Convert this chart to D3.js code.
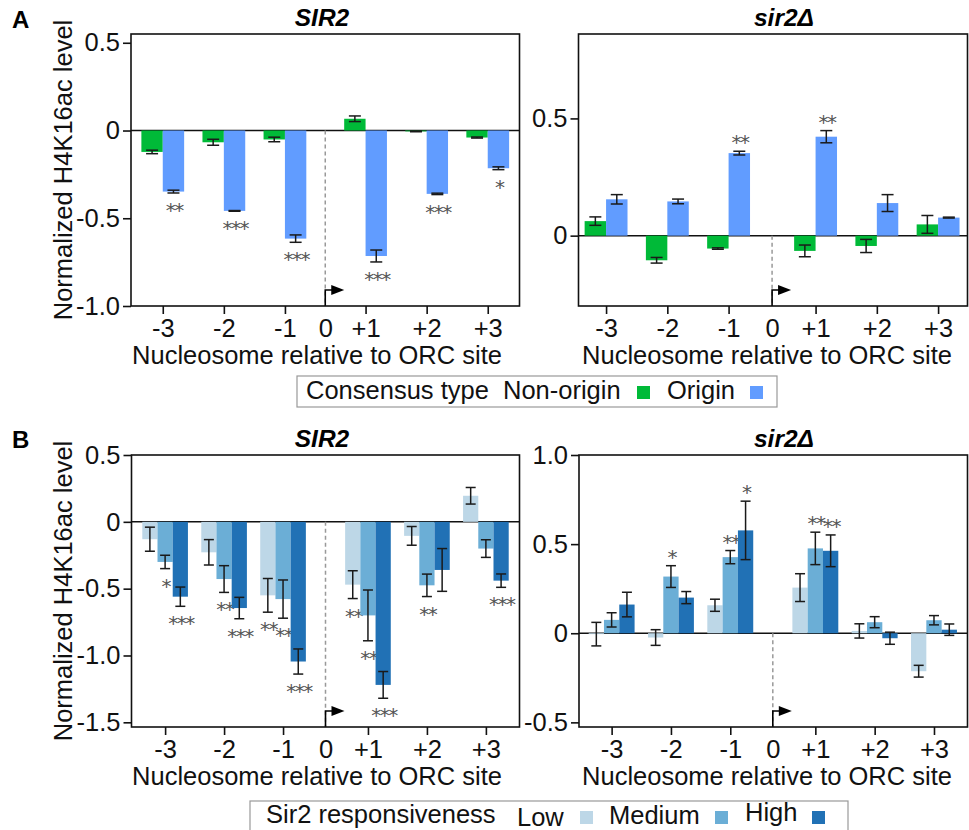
<!DOCTYPE html>
<html>
<head>
<meta charset="utf-8">
<script src="https://cdn.jsdelivr.net/npm/d3@7.9.0/dist/d3.min.js"></script>
<style>
  body { margin: 0; background: #fff; }
  svg { display: block; }
  text { font-family: "Liberation Sans", Arial, sans-serif; }
</style>
</head>
<body>
<svg id="chart" width="969" height="830"></svg>
<script>
// nucleosome positions and their labels
const nucleosomes = [-3, -2, -1, 1, 2, 3];
const xTickValues = [-3, -2, -1, 0, 1, 2, 3];
const xTickLabels = ["-3", "-2", "-1", "0", "+1", "+2", "+3"];

// panel A: consensus type
const consensusTypes = ["Non-origin", "Origin"];
const consensusColors = ["#00BA38", "#619CFF"];

const aSIR2NonOrigin = [-0.122, -0.067, -0.051, 0.067, -0.005, -0.040];
const aSIR2NonOriginErr = [0.010, 0.017, 0.013, 0.016, 0.002, 0.003];
const aSIR2NonOriginSig = ["", "", "", "", "", ""];
const aSIR2Origin = [-0.348, -0.458, -0.616, -0.715, -0.361, -0.215];
const aSIR2OriginErr = [0.008, 0.002, 0.021, 0.034, 0.004, 0.008];
const aSIR2OriginSig = ["**", "***", "***", "***", "***", "*"];

const aSir2dNonOrigin = [0.062, -0.105, -0.055, -0.065, -0.044, 0.048];
const aSir2dNonOriginErr = [0.018, 0.012, 0.003, 0.025, 0.028, 0.038];
const aSir2dNonOriginSig = ["", "", "", "", "", ""];
const aSir2dOrigin = [0.155, 0.146, 0.352, 0.422, 0.139, 0.077];
const aSir2dOriginErr = [0.020, 0.010, 0.008, 0.026, 0.036, 0.002];
const aSir2dOriginSig = ["", "", "**", "**", "", ""];

// panel B: Sir2 responsiveness
const responsiveness = ["Low", "Medium", "High"];
const responsivenessColors = ["#bdd7e7", "#6baed6", "#2171b5"];

const bSIR2Low = [-0.130, -0.228, -0.550, -0.470, -0.105, 0.195];
const bSIR2LowErr = [0.090, 0.095, 0.126, 0.104, 0.070, 0.062];
const bSIR2LowSig = ["", "", "**", "**", "", ""];
const bSIR2Medium = [-0.300, -0.428, -0.578, -0.700, -0.475, -0.200];
const bSIR2MediumErr = [0.050, 0.100, 0.143, 0.190, 0.084, 0.066];
const bSIR2MediumSig = ["*", "**", "**", "**", "**", ""];
const bSIR2High = [-0.560, -0.645, -1.045, -1.220, -0.360, -0.440];
const bSIR2HighErr = [0.072, 0.080, 0.094, 0.100, 0.160, 0.050];
const bSIR2HighSig = ["***", "***", "***", "***", "", "***"];

const bSir2dLow = [-0.005, -0.024, 0.157, 0.256, 0.013, -0.213];
const bSir2dLowErr = [0.066, 0.044, 0.034, 0.078, 0.040, 0.033];
const bSir2dLowSig = ["", "", "", "", "", ""];
const bSir2dMedium = [0.075, 0.318, 0.427, 0.476, 0.062, 0.073];
const bSir2dMediumErr = [0.040, 0.061, 0.037, 0.091, 0.031, 0.026];
const bSir2dMediumSig = ["", "*", "**", "**", "", ""];
const bSir2dHigh = [0.161, 0.200, 0.577, 0.4625, -0.028, 0.020];
const bSir2dHighErr = [0.069, 0.034, 0.164, 0.089, 0.034, 0.032];
const bSir2dHighSig = ["", "", "*", "**", "", ""];

// y axis ticks per panel
const aSIR2Ticks = [0.5, 0, -0.5, -1.0];
const aSIR2TickLabels = ["0.5", "0", "-0.5", "-1.0"];
const aSir2dTicks = [0.5, 0];
const aSir2dTickLabels = ["0.5", "0"];
const bSIR2Ticks = [0.5, 0, -0.5, -1.0, -1.5];
const bSIR2TickLabels = ["0.5", "0", "-0.5", "-1.0", "-1.5"];
const bSir2dTicks = [1.0, 0.5, 0, -0.5];
const bSir2dTickLabels = ["1.0", "0.5", "0", "-0.5"];

const yLabel = "Normalized H4K16ac level";
const xLabel = "Nucleosome relative to ORC site";

const FS = 25.5; // main text size
const svg = d3.select('#chart');

function drawPanel(cfg) {
  const g = svg.append('g');
  // the "0" slot between -1 and +1 is narrower than a full step
  const pos = n => n === 0 ? 0 : n - Math.sign(n) * cfg.shrink;
  const x = d3.scaleLinear()
    .domain([pos(-3) - cfg.padL, pos(3) + cfg.padR])
    .range([cfg.x0, cfg.x1]);
  const y = d3.scaleLinear().domain(cfg.yDomain).range([cfg.y1, cfg.y0]);
  const step = x(1) - x(0);
  const bw = step * cfg.barFrac;
  const n = cfg.series.length;

  // zero line
  g.append('line')
    .attr('x1', cfg.x0).attr('x2', cfg.x1)
    .attr('y1', y(0)).attr('y2', y(0))
    .attr('stroke', '#111').attr('stroke-width', 1.5);

  // dashed line at ORC site
  g.append('line')
    .attr('x1', x(0)).attr('x2', x(0))
    .attr('y1', y(0)).attr('y2', cfg.y1)
    .attr('stroke', '#999').attr('stroke-width', 1.5)
    .attr('stroke-dasharray', '4,3');

  cfg.series.forEach((s, si) => {
    const off = (si - n / 2) * bw;
    const rows = nucleosomes.map((k, i) => ({ k, v: s.vals[i], e: s.errs[i], sig: s.sig[i] }));

    g.selectAll(null).data(rows).enter().append('rect')
      .attr('x', d => x(pos(d.k)) + off)
      .attr('width', bw)
      .attr('y', d => y(Math.max(0, d.v)))
      .attr('height', d => Math.abs(y(d.v) - y(0)))
      .attr('fill', s.color);

    const cx = d => x(pos(d.k)) + off + bw / 2;
    const eb = g.selectAll(null).data(rows).enter().append('g')
      .attr('stroke', '#1a1a1a').attr('stroke-width', 1.5);
    eb.append('line')
      .attr('x1', cx).attr('x2', cx)
      .attr('y1', d => y(d.v - d.e)).attr('y2', d => y(d.v + d.e));
    eb.append('line')
      .attr('x1', d => cx(d) - cfg.cap).attr('x2', d => cx(d) + cfg.cap)
      .attr('y1', d => y(d.v - d.e)).attr('y2', d => y(d.v - d.e));
    eb.append('line')
      .attr('x1', d => cx(d) - cfg.cap).attr('x2', d => cx(d) + cfg.cap)
      .attr('y1', d => y(d.v + d.e)).attr('y2', d => y(d.v + d.e));

    // significance stars: below negative bars, above positive ones
    g.selectAll(null).data(rows.filter(d => d.sig)).enter().append('text')
      .attr('x', d => cx(d) + 0.75)
      .attr('y', d => d.v < 0 ? y(d.v - d.e) + 24 : y(d.v + d.e) - 2)
      .attr('text-anchor', 'middle')
      .attr('font-size', 20)
      .attr('letter-spacing', -1.5)
      .attr('fill', '#555')
      .style('font-family', '"DejaVu Sans", sans-serif')
      .text(d => d.sig);
  });

  // TSS-like arrow at position 0
  const ax = x(0), ay = cfg.y1 - 16;
  g.append('path')
    .attr('d', `M${ax},${cfg.y1}V${ay}H${ax + 7}`)
    .attr('fill', 'none').attr('stroke', '#000').attr('stroke-width', 1.6);
  g.append('path')
    .attr('d', `M${ax + 6},${ay - 5}L${ax + 19},${ay}L${ax + 6},${ay + 5}Z`)
    .attr('fill', '#000');

  // frame
  g.append('rect')
    .attr('x', cfg.x0).attr('y', cfg.y0)
    .attr('width', cfg.x1 - cfg.x0).attr('height', cfg.y1 - cfg.y0)
    .attr('fill', 'none').attr('stroke', '#111').attr('stroke-width', 1.6);

  // y axis
  const yAxis = g.append('g')
    .attr('transform', `translate(${cfg.x0},0)`)
    .call(d3.axisLeft(y).tickValues(cfg.yTicks)
      .tickFormat((d, i) => cfg.yTickLabels[i]).tickSize(8).tickPadding(3));
  yAxis.select('.domain').remove();
  yAxis.selectAll('line').attr('stroke', '#111').attr('stroke-width', 1.6);
  yAxis.selectAll('text').attr('font-size', FS).attr('fill', '#111')
    .style('font-family', '"Liberation Sans", Arial, sans-serif');

  // x axis
  const xAxis = g.append('g')
    .attr('transform', `translate(0,${cfg.y1})`)
    .call(d3.axisBottom(x).tickValues(xTickValues.map(pos))
      .tickFormat((d, i) => xTickLabels[i]).tickSize(8).tickPadding(5));
  xAxis.select('.domain').remove();
  xAxis.selectAll('line').attr('stroke', '#111').attr('stroke-width', 1.6)
    .attr('opacity', (d, i) => xTickValues[i] === 0 ? 0 : 1);
  xAxis.selectAll('text').attr('font-size', FS).attr('fill', '#111')
    .style('font-family', '"Liberation Sans", Arial, sans-serif');

  g.append('text')
    .attr('x', cfg.xLabelX).attr('y', cfg.y1 + 58)
    .attr('text-anchor', 'middle').attr('font-size', FS).attr('fill', '#111')
    .text(xLabel);

  g.append('text')
    .attr('x', cfg.titleX).attr('y', cfg.y0 - 8)
    .attr('text-anchor', 'middle').attr('font-size', 24.5)
    .attr('font-weight', 'bold').attr('font-style', 'italic')
    .text(cfg.title);

  if (cfg.yLabelOn) {
    g.append('text')
      .attr('transform', `translate(72,${(cfg.y0 + cfg.y1) / 2}) rotate(-90)`)
      .attr('text-anchor', 'middle').attr('font-size', FS).attr('fill', '#111')
      .text(yLabel);
  }
}

function series(vals, errs, sig, color) {
  return { vals, errs, sig, color };
}

// panel A
drawPanel({
  x0: 131, x1: 519.5, y0: 34, y1: 306, shrink: 0.34, padL: 0.52, padR: 0.52,
  yDomain: [-1.0, 0.55], yTicks: aSIR2Ticks, yTickLabels: aSIR2TickLabels,
  barFrac: 0.35, cap: 6, title: "SIR2", titleX: 322, xLabelX: 317, yLabelOn: true,
  series: [
    series(aSIR2NonOrigin, aSIR2NonOriginErr, aSIR2NonOriginSig, consensusColors[0]),
    series(aSIR2Origin, aSIR2OriginErr, aSIR2OriginSig, consensusColors[1])
  ]
});
drawPanel({
  x0: 578.5, x1: 967.5, y0: 34, y1: 306, shrink: 0.29, padL: 0.45, padR: 0.48,
  yDomain: [-0.30, 0.86], yTicks: aSir2dTicks, yTickLabels: aSir2dTickLabels,
  barFrac: 0.35, cap: 6, title: "sir2Δ", titleX: 784, xLabelX: 767, yLabelOn: false,
  series: [
    series(aSir2dNonOrigin, aSir2dNonOriginErr, aSir2dNonOriginSig, consensusColors[0]),
    series(aSir2dOrigin, aSir2dOriginErr, aSir2dOriginSig, consensusColors[1])
  ]
});

// panel B
drawPanel({
  x0: 131.5, x1: 519.5, y0: 455, y1: 727, shrink: 0.28, padL: 0.57, padR: 0.57,
  yDomain: [-1.535, 0.5], yTicks: bSIR2Ticks, yTickLabels: bSIR2TickLabels,
  barFrac: 0.258, cap: 5, title: "SIR2", titleX: 322, xLabelX: 317, yLabelOn: true,
  series: [
    series(bSIR2Low, bSIR2LowErr, bSIR2LowSig, responsivenessColors[0]),
    series(bSIR2Medium, bSIR2MediumErr, bSIR2MediumSig, responsivenessColors[1]),
    series(bSIR2High, bSIR2HighErr, bSIR2HighSig, responsivenessColors[2])
  ]
});
drawPanel({
  x0: 579, x1: 967.5, y0: 455, y1: 727, shrink: 0.283, padL: 0.55, padR: 0.565,
  yDomain: [-0.526, 1.0], yTicks: bSir2dTicks, yTickLabels: bSir2dTickLabels,
  barFrac: 0.258, cap: 5, title: "sir2Δ", titleX: 784, xLabelX: 767, yLabelOn: false,
  series: [
    series(bSir2dLow, bSir2dLowErr, bSir2dLowSig, responsivenessColors[0]),
    series(bSir2dMedium, bSir2dMediumErr, bSir2dMediumSig, responsivenessColors[1]),
    series(bSir2dHigh, bSir2dHighErr, bSir2dHighSig, responsivenessColors[2])
  ]
});

// panel letters
svg.append('text').attr('x', 12).attr('y', 28).attr('font-size', 24)
  .attr('font-weight', 'bold').text('A');
svg.append('text').attr('x', 12).attr('y', 448).attr('font-size', 24)
  .attr('font-weight', 'bold').text('B');

// legends
function legend(box, titleText, titleX, names, colors, textX, swatchX, baselines) {
  const g = svg.append('g');
  g.append('rect')
    .attr('x', box[0]).attr('y', box[1]).attr('width', box[2]).attr('height', box[3])
    .attr('fill', '#fff').attr('stroke', '#999').attr('stroke-width', 1.2);
  g.append('text').attr('x', titleX).attr('y', baselines[0])
    .attr('font-size', FS).attr('fill', '#111').text(titleText);
  names.forEach((nm, i) => {
    g.append('text').attr('x', textX[i]).attr('y', baselines[i + 1])
      .attr('font-size', FS).attr('fill', '#111').text(nm);
    g.append('rect').attr('x', swatchX[i]).attr('y', box[1] + 10)
      .attr('width', 13).attr('height', 13).attr('fill', colors[i]);
  });
}

legend([297, 376, 480, 31], "Consensus type", 306, consensusTypes, consensusColors,
  [503, 667], [637, 750], [399, 399, 399]);
legend([250, 801, 598, 40], "Sir2 responsiveness", 266, responsiveness, responsivenessColors,
  [517, 609, 745], [580, 715, 812], [823, 826, 824, 821]);
</script>
</body>
</html>
